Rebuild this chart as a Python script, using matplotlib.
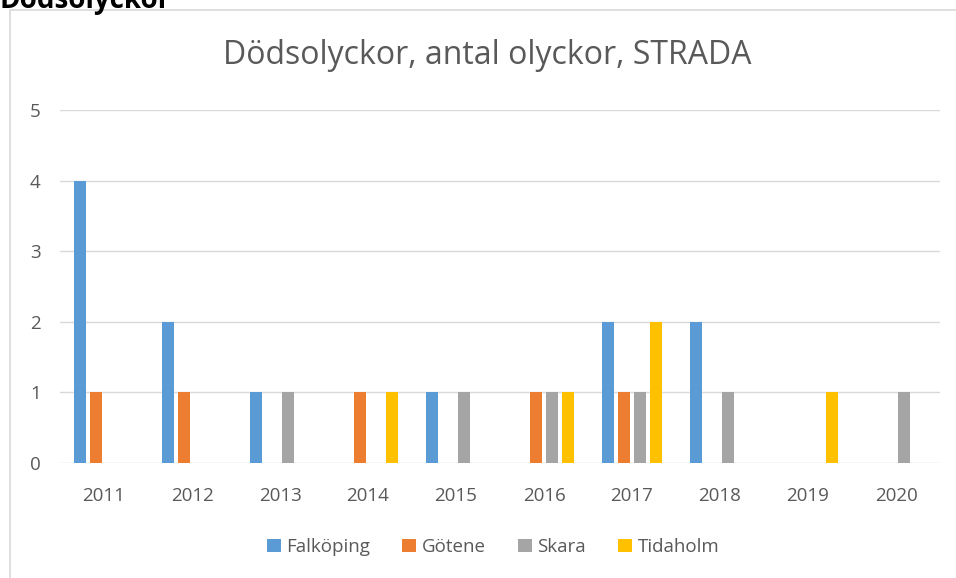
import matplotlib.pyplot as plt
import numpy as np
from matplotlib.patches import Rectangle

years = ['2011', '2012', '2013', '2014', '2015', '2016', '2017', '2018', '2019', '2020']
falkoping = [4, 2, 1, 0, 1, 0, 2, 2, 0, 0]
gotene = [1, 1, 0, 1, 0, 1, 1, 0, 0, 0]
skara = [0, 0, 1, 0, 1, 1, 1, 1, 0, 1]
tidaholm = [0, 0, 0, 1, 0, 1, 2, 0, 1, 0]

series = [('Falköping', falkoping, '#5b9bd5'),
          ('Götene', gotene, '#ed7d31'),
          ('Skara', skara, '#a5a5a5'),
          ('Tidaholm', tidaholm, '#ffc000')]

plt.rcParams['font.family'] = ['Open Sans', 'DejaVu Sans']
txt = '#595959'

fig = plt.figure(figsize=(9.56, 5.78), dpi=100)
ax = fig.add_axes([60 / 956, 1 - 463 / 578, 880 / 956, 353 / 578])

x = np.arange(len(years))
step = 0.182
width = 0.136
for i, (name, vals, col) in enumerate(series):
    ax.bar(x + (i - 1.5) * step, vals, width, color=col, label=name, zorder=3)

ax.set_xlim(-0.5, len(years) - 0.5)
ax.set_ylim(0, 5)
ax.set_yticks(range(6))
ax.set_xticks(x)
ax.set_xticklabels(years)
ax.grid(axis='y', color='#d9d9d9', lw=1, zorder=0)
for s in ax.spines.values():
    s.set_visible(False)
ax.tick_params(length=0, labelsize=13.5, colors=txt)
ax.tick_params(axis='y', pad=14)
ax.tick_params(axis='x', pad=17)

fig.text(487 / 956, 1 - 55 / 578, 'Dödsolyckor, antal olyckor, STRADA',
         ha='center', va='center', fontsize=23, color=txt)

ax.legend(loc='center', bbox_to_anchor=(493 / 956, 1 - 547 / 578),
          bbox_transform=fig.transFigure, ncol=4, frameon=False,
          fontsize=13.5, labelcolor=txt, handlelength=0.75, handleheight=0.75,
          handletextpad=0.3, columnspacing=1.7)

fig.patches.append(Rectangle((10 / 956, -0.1), 1.2, 1 - 10 / 578 + 0.1,
                             transform=fig.transFigure, fill=False,
                             edgecolor='#d9d9d9', lw=1.2))

fig.text(0, 1 - 8 / 578, 'Dödsolyckor', ha='left', va='baseline',
         fontsize=20, fontweight='bold', color='black')

fig.savefig('out.png', dpi=100)
